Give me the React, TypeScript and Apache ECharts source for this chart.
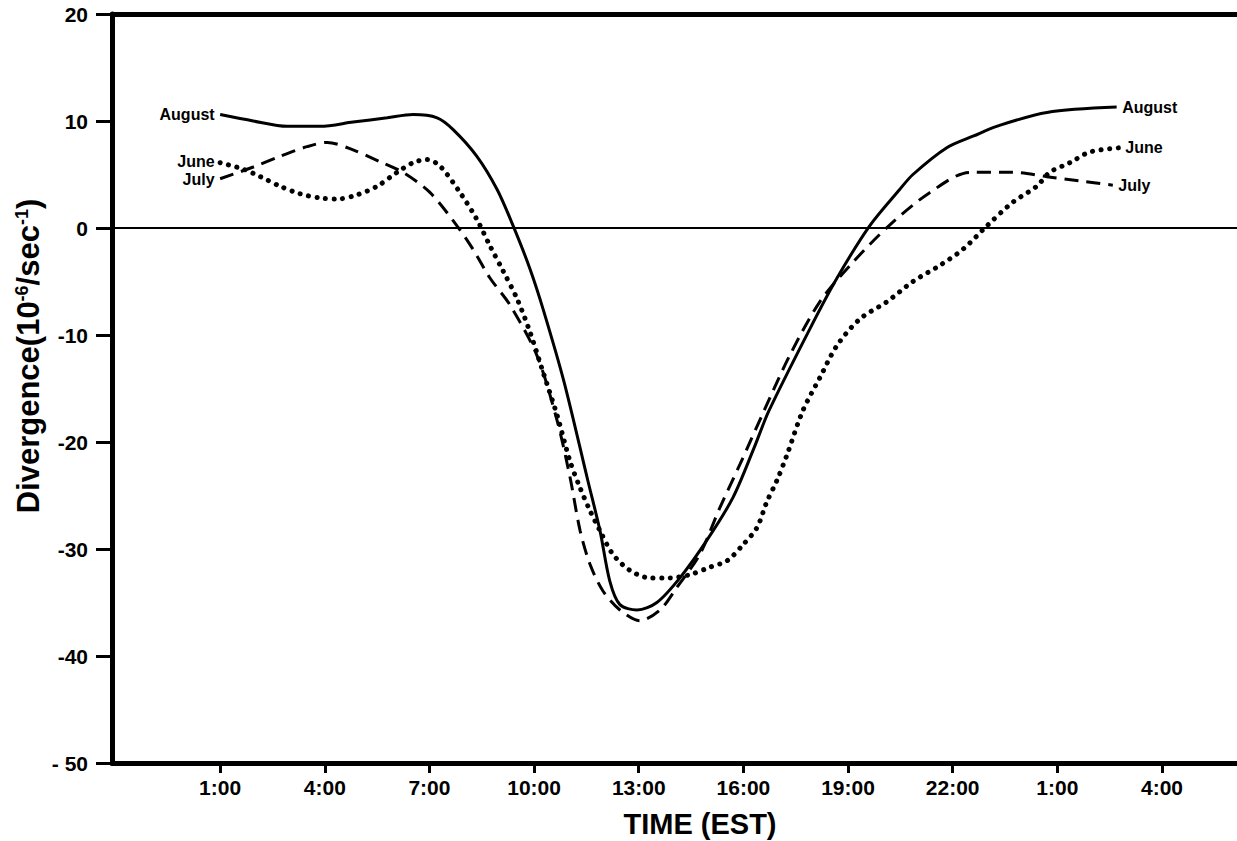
import React, { useEffect, useRef } from 'react';
import * as echarts from 'echarts';

const FONT = '"Liberation Sans", Arial, Helvetica, sans-serif';

const xTickValues = [1, 4, 7, 10, 13, 16, 19, 22, 25, 28];
const xTickLabels = ['1:00', '4:00', '7:00', '10:00', '13:00', '16:00', '19:00', '22:00', '1:00', '4:00'];
const yTickValues = [20, 10, 0, -10, -20, -30, -40, -50];
const yTickLabels = ['20', '10', '0', '-10', '-20', '-30', '-40', '- 50'];

const augustHours = [1.0, 1.95, 2.92, 3.87, 4.81, 5.79, 6.53, 7.22, 7.68, 8.36, 8.94, 9.40, 9.88, 10.26, 10.86, 11.54, 11.89, 12.17, 12.46, 12.95, 13.52, 14.18, 14.95, 15.70, 16.30, 16.73, 17.91, 18.68, 19.62, 20.48, 20.86, 21.83, 22.60, 23.26, 24.70, 26.70];
const augustValues = [10.6, 10.0, 9.5, 9.5, 9.9, 10.3, 10.6, 10.3, 9.2, 6.7, 3.6, 0.2, -3.8, -7.6, -14.4, -23.6, -28.3, -33.0, -35.2, -35.7, -35.0, -32.7, -29.2, -25.2, -20.6, -17.1, -9.4, -4.7, 0.2, 3.6, 5.0, 7.5, 8.6, 9.5, 10.8, 11.3];

const julyHours = [1.0, 1.95, 2.72, 3.49, 4.07, 4.81, 5.58, 6.24, 7.02, 7.79, 8.25, 8.74, 9.31, 10.08, 10.66, 11.03, 11.32, 11.60, 11.97, 12.46, 13.03, 13.61, 14.09, 14.75, 15.33, 15.90, 16.59, 17.33, 18.19, 19.14, 20.20, 21.34, 22.49, 23.72, 24.70, 25.64, 26.59];
const julyValues = [4.6, 5.7, 6.7, 7.6, 8.0, 7.3, 6.2, 5.2, 3.3, 0.2, -2.0, -4.7, -7.2, -11.9, -18.0, -23.3, -28.3, -31.4, -33.9, -35.7, -36.7, -35.7, -33.6, -30.5, -26.1, -22.1, -17.1, -11.9, -6.9, -3.2, 0.3, 3.3, 5.2, 5.2, 4.8, 4.4, 4.0];

const juneHours = [1.0, 1.66, 2.15, 2.72, 3.29, 3.87, 4.35, 4.93, 5.50, 6.07, 6.53, 6.93, 7.30, 7.88, 8.36, 8.74, 9.11, 9.51, 9.88, 10.25, 10.66, 11.03, 11.32, 11.60, 11.89, 12.26, 12.75, 13.32, 13.89, 14.47, 15.04, 15.53, 15.99, 16.39, 16.67, 16.96, 17.25, 17.70, 18.19, 18.68, 19.34, 20.11, 20.86, 21.63, 22.29, 22.98, 23.72, 24.41, 24.78, 25.36, 25.93, 26.79];
const juneValues = [6.1, 5.5, 4.8, 3.9, 3.2, 2.8, 2.7, 3.1, 3.9, 5.2, 6.1, 6.4, 5.8, 3.3, 0.8, -1.7, -4.0, -6.6, -9.7, -13.4, -17.5, -21.8, -24.3, -26.4, -28.3, -30.5, -32.0, -32.7, -32.7, -32.4, -31.7, -31.1, -29.6, -28.0, -25.6, -23.6, -21.2, -17.1, -14.0, -11.0, -8.5, -6.9, -5.0, -3.5, -2.0, 0.2, 2.4, 3.9, 5.2, 6.1, 7.1, 7.5];

const seriesNames = ['August', 'June', 'July'];

function buildData(hours: number[], values: number[], name: string, leftOffsetY: number) {
  const last = hours.length - 1;
  return hours.map((h, i) => {
    if (i === 0 || i === last) {
      return {
        value: [h, values[i]],
        symbol: 'circle',
        symbolSize: 1,
        itemStyle: { color: 'rgba(0,0,0,0)' },
        label: {
          show: true,
          formatter: name,
          position: i === 0 ? 'left' : 'right',
          distance: 5,
          offset: i === 0 ? [0, leftOffsetY] : [0, 0],
          color: '#000',
          fontSize: 16,
          lineHeight: 16,
          fontWeight: 'bold',
          fontFamily: FONT,
        },
      };
    }
    return { value: [h, values[i]] };
  });
}

export default function App() {
  const ref = useRef<HTMLDivElement>(null);
  useEffect(() => {
    if (!ref.current) return;
    const chart = echarts.init(ref.current, null, { renderer: 'svg' });
    const mkAxisLine = () => ({ show: true, onZero: false, lineStyle: { color: '#000', width: 5 } });
    chart.setOption({
      animation: false,
      backgroundColor: '#fff',
      grid: { left: 112, top: 14, right: 0, bottom: 78, containLabel: false },
      xAxis: [
        {
          type: 'value',
          min: -2.1,
          max: 30.15,
          position: 'bottom',
          axisLine: mkAxisLine(),
          splitLine: { show: false },
          axisTick: {
            show: true,
            customValues: xTickValues,
            length: 10,
            lineStyle: { color: '#000', width: 3 },
          },
          axisLabel: {
            show: true,
            customValues: xTickValues,
            formatter: (v: number) => {
              const i = xTickValues.indexOf(Math.round(v));
              return i >= 0 ? xTickLabels[i] : '';
            },
            margin: 14,
            color: '#000',
            fontSize: 21,
            fontWeight: 'bold',
            fontFamily: FONT,
          },
        },
        {
          type: 'value',
          min: -2.1,
          max: 30.15,
          position: 'top',
          axisLine: mkAxisLine(),
          splitLine: { show: false },
          axisTick: { show: false },
          axisLabel: { show: false },
        },
      ],
      yAxis: {
        type: 'value',
        min: -50,
        max: 20,
        interval: 10,
        position: 'left',
        axisLine: mkAxisLine(),
        splitLine: { show: false },
        axisTick: {
          show: true,
          inside: false,
          length: 16,
          lineStyle: { color: '#000', width: 3, opacity: 1 },
        },
        axisLabel: {
          formatter: (v: number) => {
            const i = yTickValues.indexOf(Math.round(v));
            return i >= 0 ? yTickLabels[i] : '';
          },
          margin: 24,
          color: '#000',
          fontSize: 21,
          fontWeight: 'bold',
          fontFamily: FONT,
        },
      },
      series: [
        {
          name: seriesNames[0],
          type: 'line',
          symbol: 'none',
          smooth: 0.3,
          data: buildData(augustHours, augustValues, 'August', 0),
          lineStyle: { color: '#000', width: 3 },
          markLine: {
            silent: true,
            symbol: 'none',
            label: { show: false },
            lineStyle: { color: '#000', width: 2, type: 'solid' },
            data: [{ yAxis: 0 }],
          },
        },
        {
          name: seriesNames[1],
          type: 'line',
          symbol: 'none',
          smooth: 0.3,
          data: buildData(juneHours, juneValues, 'June', -1),
          lineStyle: { color: '#000', width: 5, type: [0.1, 8.5], cap: 'round' },
        },
        {
          name: seriesNames[2],
          type: 'line',
          symbol: 'none',
          smooth: 0.3,
          data: buildData(julyHours, julyValues, 'July', 1),
          lineStyle: { color: '#000', width: 3, type: [14, 8] },
        },
      ],
      graphic: [
        {
          type: 'text',
          x: 28,
          y: 356,
          rotation: Math.PI / 2,
          style: {
            text: '{m|Divergence(10}{s|-6}{m|/sec}{s|-1}{m|)}',
            rich: {
              m: { fontSize: 31, fontWeight: 'bold', fontFamily: FONT, fill: '#000' },
              s: { fontSize: 18, fontWeight: 'bold', fontFamily: FONT, verticalAlign: 'top', fill: '#000' },
            },
            align: 'center',
            verticalAlign: 'middle',
            fill: '#000',
          },
        },
        {
          type: 'text',
          x: 700,
          y: 824,
          style: {
            text: 'TIME (EST)',
            fontSize: 29,
            fontWeight: 'bold',
            fontFamily: FONT,
            align: 'center',
            verticalAlign: 'middle',
            fill: '#000',
          },
        },
      ],
    });
    return () => chart.dispose();
  }, []);
  return (
    <div
      ref={ref}
      style={{ position: 'absolute', left: 0, top: 0, width: 1237, height: 841 }}
    />
  );
}
